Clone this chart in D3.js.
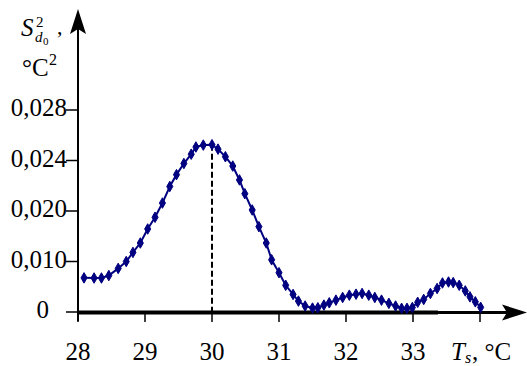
<!DOCTYPE html>
<html>
<head>
<meta charset="utf-8">
<script src="https://cdn.jsdelivr.net/npm/d3@7"></script>
<style>
	body { margin: 0; background: #fff; }
</style>
</head>
<body>
<div id="chart"></div>
<script>
"use strict";

// temperature, °C
const temps = [
	28.09, 28.24, 28.35, 28.46, 28.60, 28.72, 28.82, 28.93, 29.04, 29.15,
	29.26, 29.37, 29.47, 29.58, 29.69, 29.76, 29.87, 30.00, 30.09, 30.20,
	30.31, 30.41, 30.49, 30.60, 30.70, 30.81, 30.89, 31.00, 31.10, 31.21,
	31.29, 31.39, 31.50, 31.58, 31.67, 31.75, 31.85, 31.95, 32.05, 32.15,
	32.24, 32.34, 32.43, 32.53, 32.64, 32.74, 32.83, 32.91, 32.99, 33.07,
	33.16, 33.26, 33.36, 33.44, 33.53, 33.60, 33.69, 33.78, 33.85, 33.93,
	34.01
];

// variance S^2, °C^2
const variance = [
	0.00676, 0.00673, 0.00673, 0.00722, 0.00863, 0.01000, 0.01180, 0.01366, 0.01644, 0.01876,
	0.02063, 0.02194, 0.02288, 0.02376, 0.02450, 0.02507, 0.02522, 0.02525, 0.02490, 0.02430,
	0.02356, 0.02246, 0.02137, 0.02008, 0.01690, 0.01366, 0.01034, 0.00778, 0.00529, 0.00347,
	0.00216, 0.00118, 0.00078, 0.00084, 0.00137, 0.00182, 0.00235, 0.00288, 0.00333, 0.00353,
	0.00367, 0.00333, 0.00288, 0.00235, 0.00171, 0.00118, 0.00073, 0.00073, 0.00088, 0.00192,
	0.00249, 0.00367, 0.00465, 0.00575, 0.00594, 0.00582, 0.00529, 0.00418, 0.00300, 0.00202,
	0.00092
];

const xTicks = [28, 29, 30, 31, 32, 33, 34];
const xTickLabels = ["28", "29", "30", "31", "32", "33", ""];
// the y axis is not linear: ticks are evenly spaced
const yTicks = [0, 0.010, 0.020, 0.024, 0.028];
const yTickLabels = ["0", "0,010", "0,020", "0,024", "0,028"];

const width = 527, height = 366;
const FONT = "Liberation Serif";
const data = temps.map((t, i) => ({ t: t, v: variance[i] }));

const x = d3.scaleLinear().domain([28, 34]).range([78, 480]);
const y = d3.scaleLinear().domain(yTicks).range([312, 261.5, 211, 160.5, 110]);

const svg = d3.select("#chart").append("svg")
	.attr("width", width)
	.attr("height", height);

const navy = "#000080";

function label(px, py, size, str) {
	return svg.append("text")
		.attr("x", px).attr("y", py)
		.attr("font-family", FONT)
		.attr("font-size", size)
		.text(str);
}

// dashed line at the peak
const peak = data.reduce((a, b) => (b.v > a.v ? b : a));
svg.append("line")
	.attr("x1", x(peak.t)).attr("x2", x(peak.t))
	.attr("y1", y(peak.v)).attr("y2", y(0))
	.attr("stroke", "#000")
	.attr("stroke-width", 2)
	.attr("stroke-dasharray", "6,3");

// y axis
svg.append("line")
	.attr("x1", 78).attr("x2", 78)
	.attr("y1", 28).attr("y2", 321)
	.attr("stroke", "#000").attr("stroke-width", 2);
svg.append("path")
	.attr("d", "M78,9 L70,34 L78,29 L86,34 Z")
	.attr("fill", "#000");

// x axis
svg.append("line")
	.attr("x1", 77).attr("x2", 438)
	.attr("y1", 312.5).attr("y2", 312.5)
	.attr("stroke", "#000").attr("stroke-width", 4);
svg.append("line")
	.attr("x1", 438).attr("x2", 510)
	.attr("y1", 312.5).attr("y2", 312.5)
	.attr("stroke", "#000").attr("stroke-width", 3);
svg.append("path")
	.attr("d", "M527,312.5 L502,304.5 L507,312.5 L502,320.5 Z")
	.attr("fill", "#000");

// x ticks
svg.selectAll(".xtick")
	.data(xTicks)
	.enter().append("line")
	.attr("class", "xtick")
	.attr("x1", d => x(d)).attr("x2", d => x(d))
	.attr("y1", 313).attr("y2", 322)
	.attr("stroke", "#000").attr("stroke-width", 1.5);

svg.selectAll(".xlab")
	.data(xTicks)
	.enter().append("text")
	.attr("class", "xlab")
	.attr("x", d => x(d))
	.attr("y", 360)
	.attr("text-anchor", "middle")
	.attr("font-family", FONT)
	.attr("font-size", 25)
	.text((d, i) => xTickLabels[i]);

// y ticks
svg.selectAll(".ytick")
	.data(yTicks)
	.enter().append("line")
	.attr("class", "ytick")
	.attr("x1", 66).attr("x2", 78)
	.attr("y1", d => y(d)).attr("y2", d => y(d))
	.attr("stroke", "#000").attr("stroke-width", 1.5);

svg.selectAll(".ylab")
	.data(yTicks)
	.enter().append("text")
	.attr("class", "ylab")
	.attr("x", d => (d === 0 ? 49 : 67))
	.attr("y", d => y(d) + 6)
	.attr("text-anchor", "end")
	.attr("font-family", FONT)
	.attr("font-size", 25)
	.text((d, i) => yTickLabels[i]);

// axis titles
label(21, 36, 25, "S").attr("font-style", "italic");
label(36, 27, 15, "2");
label(35, 42, 15, "d").attr("font-style", "italic");
label(43, 45, 11, "0");
label(57, 34, 22, ",");

label(22, 76, 25, "°C");
label(49, 65, 16, "2");

label(451, 360, 25, "T").attr("font-style", "italic");
label(465, 363, 16, "s").attr("font-style", "italic");
label(472, 360, 25, ", °C");

// curve
const line = d3.line()
	.x(d => x(d.t))
	.y(d => y(d.v));

svg.append("path")
	.datum(data)
	.attr("d", line)
	.attr("fill", "none")
	.attr("stroke", navy)
	.attr("stroke-width", 2);

svg.selectAll(".pt")
	.data(data)
	.enter().append("path")
	.attr("class", "pt")
	.attr("transform", d => `translate(${x(d.t)},${y(d.v)})`)
	.attr("d", d3.symbol().type(d3.symbolDiamond).size(32))
	.attr("fill", navy)
	.attr("stroke", navy)
	.attr("stroke-width", 1);
</script>
</body>
</html>
